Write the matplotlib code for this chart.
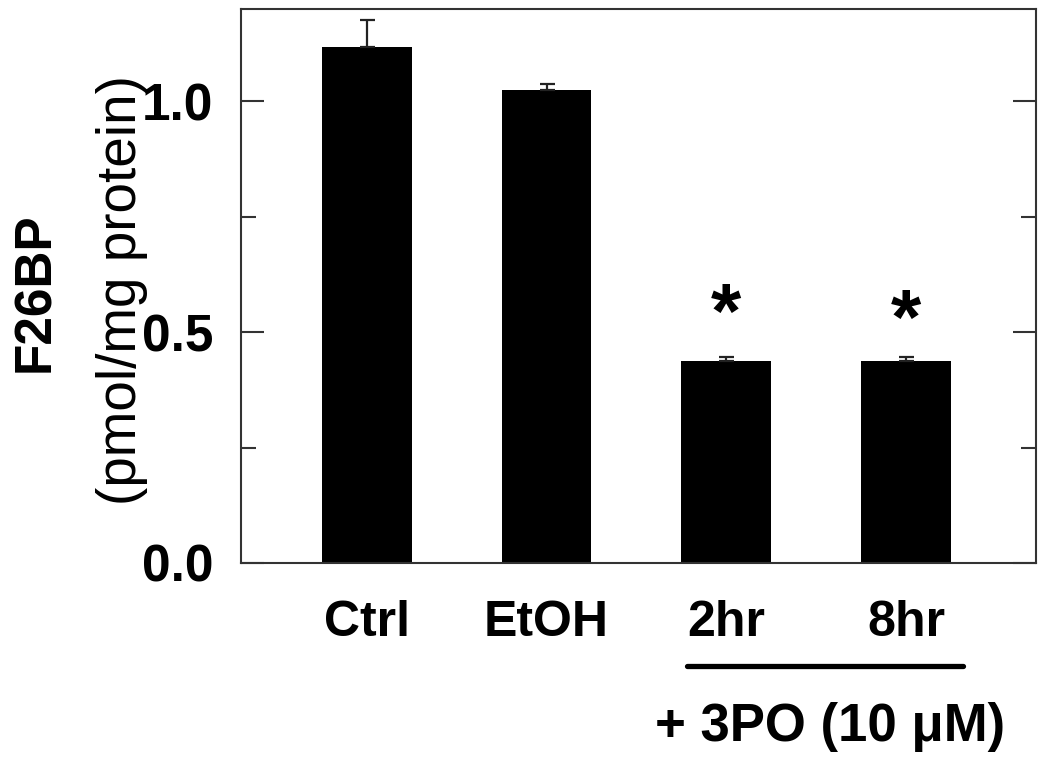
import matplotlib
matplotlib.use("Agg")
import matplotlib.pyplot as plt
from matplotlib.ticker import FixedLocator
import matplotlib.transforms as mtransforms

plt.rcParams['font.family'] = ['Liberation Sans', 'DejaVu Sans']

categories = ["Ctrl", "EtOH", "2hr", "8hr"]
values = [1.117, 1.025, 0.438, 0.438]
errors = [0.059, 0.012, 0.009, 0.009]
significant = [False, False, True, True]
major_ticks = [0.0, 0.5, 1.0]
minor_ticks = [0.25, 0.75]
group_label = "+ 3PO (10 \u03bcM)"

fig = plt.figure(figsize=(10.39, 7.59), dpi=100)
ax = fig.add_axes([241/1039, 1-563/759, (1036-241)/1039, (563-9)/759])

x = list(range(len(categories)))
ax.bar(x, values, width=0.5, color='black', zorder=2)
ax.errorbar(x, values, yerr=[[0]*len(errors), errors], fmt='none',
            ecolor='#222222', elinewidth=1.6, capsize=5.4, capthick=1.6, zorder=3)

star_y = [0, 0, 0.488, 0.475]
for xi, s, sy in zip(x, significant, star_y):
    if s:
        ax.text(xi, sy, "*", ha='center', va='baseline', fontsize=56,
                fontweight='bold')

ax.set_xlim(-0.699, 3.722)
ax.set_ylim(0, 1.2)
ax.yaxis.set_major_locator(FixedLocator(major_ticks))
ax.yaxis.set_minor_locator(FixedLocator(minor_ticks))
ax.set_yticklabels(["0.0", "0.5", "1.0"])
ax.set_xticks(x)
ax.set_xticklabels(categories)

ax.tick_params(axis='y', which='both', direction='in', left=True, right=True,
               color='#333333', width=1.5)
ax.tick_params(axis='y', which='major', length=16.5, pad=20, labelsize=37)
ax.tick_params(axis='y', which='minor', length=11)
for lab in ax.get_yticklabels():
    lab.set_fontweight('bold')
ax.tick_params(axis='x', length=0, pad=27, labelsize=36)
for lab in ax.get_xticklabels():
    lab.set_fontweight('bold')

for sp in ax.spines.values():
    sp.set_color('#333333')
    sp.set_linewidth(1.5)

trans = mtransforms.blended_transform_factory(ax.transData, ax.transAxes)
ax.plot([1.781, 3.317], [-0.186, -0.186], color='black', lw=3.8,
        solid_capstyle='round', transform=trans, clip_on=False)
ax.text(2.577, -0.322, group_label, transform=trans, ha='center',
        va='baseline', fontsize=38, fontweight='bold')

fig.text(36/1039, 1-292/759, "F26BP", rotation=90, ha='center', va='center',
         fontsize=37, fontweight='bold')
fig.text(122/1039, 1-290/759, "(pmol/mg protein)", rotation=90, ha='center',
         va='center', fontsize=39.5)

fig.savefig("out.png", dpi=100)
